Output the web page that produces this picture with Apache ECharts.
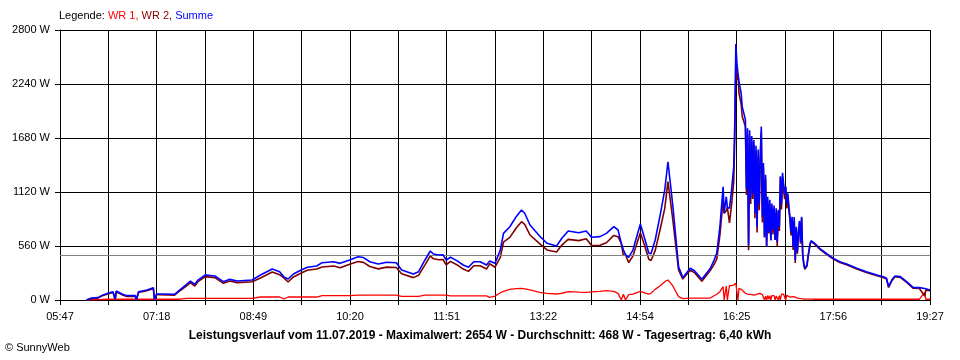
<!DOCTYPE html>
<html>
<head>
<meta charset="utf-8">
<script src="https://cdn.jsdelivr.net/npm/echarts@6/dist/echarts.min.js"></script>
<style>html,body{margin:0;padding:0;background:#fff;}#c{width:960px;height:360px;}</style>
</head>
<body>
<div id="c"></div>
<script>
// ---- data ----
const startTime = '05:47';
const endTime = '19:27';
const xTickLabels = ['05:47','07:18','08:49','10:20','11:51','13:22','14:54','16:25','17:56','19:27'];
const yMax = 2800;
const yStep = 560;
const average = 468;

const times = [
'06:12','06:17','06:23','06:27','06:32','06:37','06:39','06:40','06:46','06:50','06:58','06:59',
'07:01','07:09','07:15','07:16','07:18','07:21','07:35','07:40','07:46','07:50','07:54','07:57',
'08:04','08:13','08:21','08:27','08:34','08:48','08:56','09:07','09:14','09:18','09:22','09:27',
'09:33','09:40','09:49','09:54','10:05','10:11','10:20','10:28','10:33','10:39','10:47','10:55',
'11:04','11:09','11:20','11:25','11:31','11:36','11:39','11:44','11:48','11:51','11:55','12:01',
'12:07','12:12','12:17','12:23','12:29','12:32','12:37','12:42','12:45','12:51','12:57','13:02',
'13:05','13:10','13:19','13:26','13:35','13:40','13:46','13:56','14:03','14:08','14:16','14:22',
'14:29','14:33','14:36','14:38','14:40','14:43','14:47','14:54','14:58','15:02','15:04','15:08',
'15:13','15:17','15:20','15:23','15:25','15:30','15:34','15:41','15:45','15:52','16:00','16:03',
'16:06','16:09','16:12','16:13','16:15','16:16','16:18','16:20','16:22','16:23','16:24','16:25',
'16:26','16:27','16:29','16:30','16:33','16:34','16:35','16:36','16:37','16:38','16:39','16:40',
'16:41','16:42','16:43','16:44','16:45','16:46','16:47','16:48','16:49','16:50','16:51','16:52',
'16:53','16:54','16:55','16:56','16:57','16:58','16:59','17:00','17:01','17:02','17:03','17:04',
'17:05','17:06','17:07','17:08','17:09','17:10','17:11','17:12','17:13','17:14','17:15','17:16',
'17:17','17:18','17:19','17:20','17:21','17:22','17:23','17:24','17:25','17:26','17:27','17:28',
'17:29','17:30','17:31','17:32','17:33','17:34','17:35','17:36','17:38','17:40','17:43','17:50',
'17:56','18:02','18:09','18:18','18:27','18:37','18:43','18:46','18:48','18:51','18:54','18:59',
'19:05','19:11','19:17','19:22','19:23','19:27'
];

// Summe (blue)
const summe = [
0,20,25,50,70,86,10,93,59,45,45,0,
86,104,128,0,62,62,59,104,160,197,162,207,
259,249,190,214,197,207,259,321,294,240,218,270,
304,339,353,387,397,380,415,449,440,397,373,391,
387,311,270,294,415,508,477,467,470,415,443,408,
363,339,397,397,363,404,380,518,691,760,864,933,
900,778,664,588,560,640,715,698,715,650,657,691,
760,726,588,520,470,443,518,788,640,484,480,622,
899,1141,1434,1141,933,346,232,329,304,215,329,400,
484,760,1175,900,1071,960,950,1141,1382,1832,2654,2454,
2350,2264,2143,2005,1870,1150,1780,570,1760,1050,1700,1100,
1660,900,1600,760,1560,1000,1500,1800,860,1420,650,1300,
553,1070,700,1040,620,1000,730,980,622,950,600,930,
760,1280,1000,1320,1330,1100,1175,1000,1106,968,864,700,
864,553,860,415,760,500,700,820,600,864,484,380,
329,346,360,449,520,588,615,620,590,570,536,477,
432,397,370,329,294,259,242,225,138,207,249,242,
190,131,128,120,110,104
];

// WR 1 (red)
const wr1 = [
0,3,3,5,8,8,8,8,8,8,8,0,
8,8,8,0,8,8,8,8,17,17,17,17,
17,17,17,17,17,17,31,31,31,10,31,31,
31,31,31,45,45,45,45,50,50,50,50,50,
50,38,38,38,50,50,50,50,50,50,42,42,
42,42,42,42,42,28,40,75,90,111,118,121,
115,104,80,69,62,70,86,82,80,85,90,97,
90,69,0,60,0,55,62,90,75,62,70,110,
150,190,207,170,138,35,15,20,20,20,20,41,
60,86,138,0,145,0,150,150,155,160,173,170,
0,120,111,100,70,62,60,55,58,55,55,52,
52,52,55,60,65,69,69,60,55,50,0,40,
0,45,10,45,0,45,50,45,0,40,45,0,
45,0,60,69,60,55,0,50,40,35,35,30,
20,35,35,30,20,20,20,17,15,15,12,10,
10,10,10,10,10,10,10,10,8,8,8,8,
8,8,8,8,8,8,8,8,8,8,8,8,
8,8,8,80,8,8
];

// ---- build ----
function toMin(s){ const p = s.split(':'); return (+p[0])*60 + (+p[1]); }
const t0 = toMin(startTime);
const span = toMin(endTime) - t0;
const xStep = span / 18;
const xs = times.map(s => toMin(s) - t0);
const wr2 = summe.map((v, i) => Math.max(0, v - wr1[i]));
const pairs = arr => arr.map((v, i) => [xs[i], v]);

const FONT = 'Liberation Sans';
const chart = echarts.init(document.getElementById('c'), null, {renderer: 'canvas'});
chart.setOption({
  animation: false,
  backgroundColor: '#ffffff',
  title: [
    {
      text: '{k|Legende: }{r|WR 1, }{m|WR 2, }{b|Summe}',
      left: 59, top: 10, padding: 0,
      textStyle: {
        fontFamily: FONT, fontSize: 11, fontWeight: 'normal',
        rich: {
          k: {color: '#000000', fontFamily: FONT, fontSize: 11},
          r: {color: '#ff0000', fontFamily: FONT, fontSize: 11},
          m: {color: '#800000', fontFamily: FONT, fontSize: 11},
          b: {color: '#0000ff', fontFamily: FONT, fontSize: 11}
        }
      }
    },
    {
      text: 'Leistungsverlauf vom 11.07.2019 - Maximalwert: 2654 W - Durchschnitt: 468 W - Tagesertrag: 6,40 kWh',
      left: 'center', top: 330, padding: 0,
      textStyle: {fontFamily: FONT, fontSize: 12, fontWeight: 'bold', color: '#000'}
    },
    {
      text: '© SunnyWeb',
      left: 5, top: 342, padding: 0,
      textStyle: {fontFamily: FONT, fontSize: 11, fontWeight: 'normal', color: '#000'}
    }
  ],
  grid: {left: 60, right: 30, top: 30, bottom: 60, containLabel: false},
  xAxis: {
    type: 'value', min: 0, max: span, interval: xStep,
    axisLine: {show: true, onZero: false, lineStyle: {color: '#000', width: 1}},
    axisTick: {show: true, length: 5, lineStyle: {color: '#000'}},
    splitLine: {show: true, lineStyle: {color: '#000', width: 1}},
    axisLabel: {
      color: '#000', fontFamily: FONT, fontSize: 11, margin: 11, showMaxLabel: true, showMinLabel: true,
      formatter: function (v) {
        const k = Math.round(v / xStep);
        return (k % 2 === 0) ? (xTickLabels[k / 2] || '') : '';
      }
    }
  },
  yAxis: {
    type: 'value', min: 0, max: yMax, interval: yStep,
    axisLine: {show: true, lineStyle: {color: '#000', width: 1}},
    axisTick: {show: true, length: 5, lineStyle: {color: '#000'}},
    splitLine: {show: true, lineStyle: {color: '#000', width: 1}},
    axisLabel: {color: '#000', fontFamily: FONT, fontSize: 11, margin: 10, formatter: v => v + ' W'}
  },
  series: [
    {
      name: 'WR 1', type: 'line', data: pairs(wr1), showSymbol: false, symbol: 'none',
      lineStyle: {color: '#ff0000', width: 1.3}, z: 3,
      markLine: {
        silent: true, symbol: 'none', label: {show: false},
        lineStyle: {color: '#808080', width: 1, type: 'solid'},
        data: [{yAxis: average}]
      }
    },
    {
      name: 'WR 2', type: 'line', data: pairs(wr2), showSymbol: false, symbol: 'none',
      lineStyle: {color: '#800000', width: 1.6}, z: 4
    },
    {
      name: 'Summe', type: 'line', data: pairs(summe), showSymbol: false, symbol: 'none',
      lineStyle: {color: '#0000ff', width: 1.6}, z: 5
    }
  ]
});
</script>
</body>
</html>
